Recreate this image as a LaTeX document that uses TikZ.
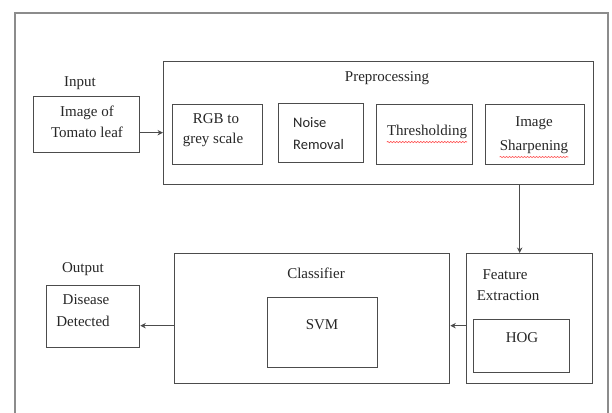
\documentclass[tikz,border=0pt]{standalone}
\usepackage{fontspec}
\setmainfont{Liberation Serif}
\newfontfamily\calib{Carlito}
\usetikzlibrary{arrows.meta,decorations.pathmorphing}
\definecolor{ln}{gray}{0.3}
\definecolor{fr}{gray}{0.55}
\tikzset{
  box/.style={draw=ln,line width=1.3pt,anchor=north west,inner sep=0pt},
  txt/.style={font=\fontsize{15}{16}\selectfont,text=black!85,inner sep=0pt},
  arr/.style={draw=ln,line width=1.1pt,-{Stealth[length=5.5pt,width=5.5pt]}},
  squig/.style={draw=red!70,line width=0.6pt,decorate,decoration={snake,amplitude=0.6pt,segment length=3pt}}
}
\newcommand{\boxat}[5]{\node[box,minimum width=#4pt-#2pt,minimum height=#5pt-#3pt] (#1) at (#2,#3) {};}
\begin{document}
\begin{tikzpicture}[x=1pt,y=-1pt]
\useasboundingbox (0,0) rectangle (612,412);
% outer frame
\coordinate (fa) at (15,420);
\coordinate (fb) at (15,13);
\coordinate (fc) at (608,13);
\coordinate (fd) at (608,420);
\draw[fr,line width=1.3pt] (fa) -- (fb) -- (fc) -- (fd);
% boxes
\boxat{img}{33}{96}{139}{152}
\boxat{pre}{163}{61}{593}{184}
\boxat{rgb}{172}{104}{262}{164}
\boxat{noise}{278}{103}{363}{162}
\boxat{thr}{376}{104}{472}{164}
\boxat{sharp}{485}{104}{584}{164}
\boxat{feat}{466}{253}{592}{383}
\boxat{hog}{473}{319}{569}{372}
\boxat{cls}{174}{253}{449}{383}
\boxat{svm}{267}{297}{377}{367}
\boxat{out}{46}{285}{139}{347}
% texts
\node[txt] (tin) at (80,83) {Input};
\node[txt] (timg1) at (87,113) {Image of};
\node[txt] (timg2) at (87,132) {Tomato leaf};
\node[txt] (tpre) at (387,78) {Preprocessing};
\node[txt] (trgb1) at (216,119) {RGB to};
\node[txt] (trgb2) at (213,140) {grey scale};
\node[txt,anchor=west,font=\calib\fontsize{14.5}{16}\selectfont] (tno1) at (293,123) {Noise};
\node[txt,anchor=west,font=\calib\fontsize{14.5}{16}\selectfont] (tno2) at (293,145) {Removal};
\node[txt] (tthr) at (427,132) {Thresholding};
\node[txt] (tsh1) at (534,123) {Image};
\node[txt] (tsh2) at (534,147) {Sharpening};
\node[txt] (tfe1) at (505,275) {Feature};
\node[txt] (tfe2) at (508,296) {Extraction};
\node[txt] (thog) at (522,338) {HOG};
\node[txt] (tcls) at (316,273) {Classifier};
\node[txt] (tsvm) at (322,325) {SVM};
\node[txt] (tout) at (83,269) {Output};
\node[txt] (tdis1) at (86,300) {Disease};
\node[txt] (tdis2) at (83,321) {Detected};
% spell-check underlines
\draw[squig] ([yshift=-3pt]tthr.south west) -- ([yshift=-3pt]tthr.south east);
\draw[squig] ([yshift=-3pt]tsh2.south west) -- ([yshift=-3pt]tsh2.south east);
% connectors
\draw[arr] ([yshift=-8pt]img.east) -- ([yshift=-8pt]img.east -| pre.west);
\draw[arr] ([xshift=-10pt]feat.north |- pre.south) -- ([xshift=-10pt]feat.north);
\draw[arr] ([yshift=-7pt]feat.west) -- ([yshift=-7pt]feat.west -| cls.east);
\draw[arr] ([yshift=-7pt]cls.west) -- ([yshift=-7pt]cls.west -| out.east);
\end{tikzpicture}
\end{document}
